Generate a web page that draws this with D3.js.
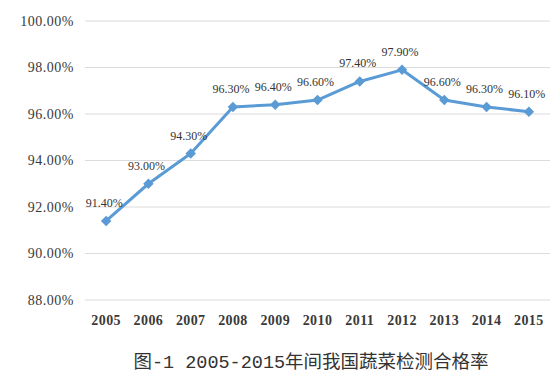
<!DOCTYPE html>
<html>
<head>
<meta charset="utf-8">
<script src="https://cdn.jsdelivr.net/npm/d3@7"></script>
<style>
  body { margin: 0; background: #fff; }
  svg { display: block; }
</style>
</head>
<body>
<svg id="chart" width="560" height="378"></svg>
<script>
// values
const years = ['2005', '2006', '2007', '2008', '2009', '2010', '2011', '2012', '2013', '2014', '2015']
const rates = [91.4, 93.0, 94.3, 96.3, 96.4, 96.6, 97.4, 97.9, 96.6, 96.3, 96.1]
const yTicks = [88, 90, 92, 94, 96, 98, 100]
const title = '图-1 2005-2015年间我国蔬菜检测合格率'

const data = years.map((y, i) => ({ year: y, rate: rates[i] }))

const serif = '"Liberation Serif", "Times New Roman", serif'

const svg = d3.select('#chart')

const xScale = d3.scaleBand()
  .domain(years)
  .range([85, 550])

const yScale = d3.scaleLinear()
  .domain([88, 100])
  .range([300, 21])

// gridlines
svg.append('g')
  .selectAll('line')
  .data(yTicks)
  .join('line')
    .attr('x1', 85)
    .attr('x2', 550)
    .attr('y1', d => yScale(d))
    .attr('y2', d => yScale(d))
    .attr('stroke', '#dcdcdc')
    .attr('stroke-width', 1.2)

// y axis labels
const yAxis = svg.append('g')
  .attr('transform', 'translate(85, 0)')
  .call(d3.axisLeft(yScale)
    .tickValues(yTicks)
    .tickSize(0)
    .tickPadding(11)
    .tickFormat(d => d.toFixed(2) + '%'))
yAxis.select('.domain').remove()
yAxis.selectAll('text')
  .style('font-family', serif)
  .style('font-size', '14px')
  .style('letter-spacing', '0.5px')
  .attr('fill', '#3a3a3a')

// x axis labels
const xAxis = svg.append('g')
  .attr('transform', 'translate(0, 300)')
  .call(d3.axisBottom(xScale).tickSize(0).tickPadding(15))
xAxis.select('.domain').remove()
xAxis.selectAll('text')
  .style('font-family', serif)
  .style('font-size', '14px')
  .style('font-weight', 'bold')
  .style('letter-spacing', '0.4px')
  .attr('fill', '#3a3a3a')

const xPos = d => xScale(d.year) + xScale.bandwidth() / 2

// the line
svg.append('path')
  .datum(data)
  .attr('fill', 'none')
  .attr('stroke', '#5b9bd5')
  .attr('stroke-width', 3)
  .attr('stroke-linejoin', 'round')
  .attr('d', d3.line()
    .x(xPos)
    .y(d => yScale(d.rate)))

// diamond markers
svg.append('g')
  .selectAll('path')
  .data(data)
  .join('path')
    .attr('transform', d => `translate(${xPos(d)}, ${yScale(d.rate)})`)
    .attr('d', d3.symbol().type(d3.symbolDiamond2).size(70))
    .attr('fill', '#5b9bd5')

// point labels
svg.append('g')
  .selectAll('text')
  .data(data)
  .join('text')
    .attr('x', d => xPos(d) - 2)
    .attr('y', d => yScale(d.rate) - 14)
    .attr('text-anchor', 'middle')
    .style('font-family', serif)
    .style('font-size', '12px')
    .attr('fill', '#333')
    .text(d => d.rate.toFixed(2) + '%')

// caption
svg.append('text')
  .attr('x', 311)
  .attr('y', 368)
  .attr('text-anchor', 'middle')
  .style('font-family', '"Liberation Mono", "Noto Sans CJK SC", monospace')
  .style('font-size', '18.5px')
  .attr('fill', '#333')
  .text(title)
</script>
</body>
</html>
